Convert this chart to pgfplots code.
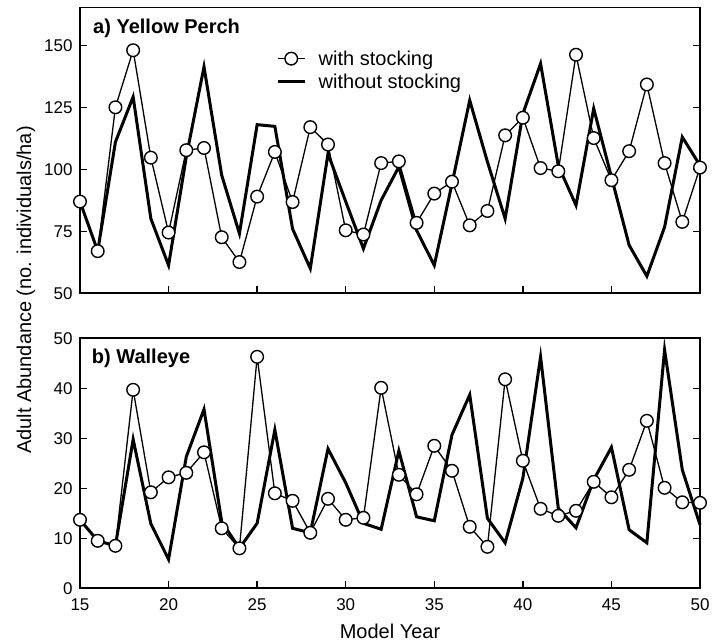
\documentclass[border=0pt]{standalone}
\usepackage{fontspec}
\setmainfont{Liberation Sans}
\usepackage{pgfplots}
\pgfplotsset{compat=1.18}
\begin{document}
\begin{tikzpicture}
\path[use as bounding box] (0,0) rectangle (717pt,643pt);
\pgfplotsset{
  common/.style={
    scale only axis, width=620pt, xmin=15, xmax=50, clip=false,
    axis line style={line width=1.8pt},
    tick align=inside, xtick pos=left, ytick pos=both,
    major tick length=7pt,
    every tick/.style={line width=1.4pt, black},
    tick label style={font=\fontsize{17}{17}\selectfont},
    /pgf/number format/assume math mode=true,
    yticklabel style={xshift=-4pt},
    xticklabel style={yshift=-7pt},
  },
  withst/.style={black, line width=1.3pt, mark=*, mark size=6.3pt, mark options={fill=white, draw=black, line width=1.4pt}},
  without/.style={black, line width=3pt, no marks},
}
\begin{axis}[common, at={(80pt,349.7pt)}, anchor=south west, height=285.7pt,
  ymin=50, ymax=165.2, ytick={50,75,100,125,150},
  xtick={15,20,...,50}, xticklabels={},
  legend style={draw=none, fill=none, inner sep=0pt, at={(0.317,0.857)}, anchor=north west,
    font=\fontsize{20}{20}\selectfont, row sep=3pt,
    /tikz/every odd column/.append style={column sep=10pt}},
  legend cell align=left,
  legend image code/.code={\draw[mark repeat=2,mark phase=2,#1] plot coordinates {(0pt,0pt) (13pt,0pt) (27pt,0pt)};},
]
\addlegendimage{withst}\addlegendentry{with stocking}
\addlegendimage{without}\addlegendentry{without stocking}
\addplot[without, forget plot] coordinates {
(15,87) (16,67) (17,111) (18,129.2) (19,80.1) (20,61.3) (21,105) (22,141.3) (23,97.6) (24,74.1)
(25,118) (26,117.3) (27,76) (28,60) (29,106.3) (30,87) (31,68) (32,87.5) (33,101) (34,75.4)
(35,61.3) (36,94.2) (37,127.8) (38,103) (39,80.1) (40,122.4) (41,142.6) (42,101.5) (43,85.5) (44,124.5)
(45,96.9) (46,69.4) (47,56.9) (48,76.7) (49,113) (50,101.6)};
\addplot[withst, forget plot] coordinates {
(15,87) (16,67) (17,125) (18,148) (19,104.7) (20,74.5) (21,107.7) (22,108.6) (23,72.6) (24,62.6)
(25,89) (26,107) (27,86.8) (28,117) (29,110) (30,75.4) (31,73.7) (32,102.5) (33,103.2) (34,78.4)
(35,90.2) (36,95) (37,77.4) (38,83.2) (39,113.7) (40,120.8) (41,100.5) (42,99.2) (43,146.2) (44,112.6)
(45,95.6) (46,107.3) (47,134.2) (48,102.5) (49,78.8) (50,100.7)};
\node[anchor=base west, inner sep=0pt, font=\bfseries\fontsize{20}{20}\selectfont] at (rel axis cs:0.021,0.911) {a) Yellow Perch};
\end{axis}
\begin{axis}[common, at={(80pt,54.7pt)}, anchor=south west, height=250pt,
  ymin=0, ymax=50, ytick={0,10,...,50},
  xtick={15,20,...,50},
  xlabel={Model Year}, ylabel={Adult Abundance (no. individuals/ha)},
  label style={font=\fontsize{20}{20}\selectfont},
  xlabel style={at={(axis description cs:0.5,0)}, anchor=base, yshift=-50pt},
  ylabel style={at={(axis description cs:-0.079,1.193)}, anchor=base, rotate=0},
]
\addplot[without] coordinates {
(15,13.7) (16,9.5) (17,8.5) (18,29.8) (19,12.9) (20,5.8) (21,26.3) (22,35.8) (23,13.3) (24,8)
(25,13) (26,31.7) (27,12) (28,11.1) (29,27.9) (30,21.1) (31,13) (32,11.8) (33,27.5) (34,14.3)
(35,13.5) (36,30.7) (37,38.7) (38,14) (39,9.1) (40,22) (41,46.3) (42,16) (43,12.1) (44,21.7)
(45,28.2) (46,11.7) (47,9.1) (48,47.7) (49,23.7) (50,12.7)};
\addplot[withst] coordinates {
(15,13.7) (16,9.5) (17,8.5) (18,39.7) (19,19.2) (20,22.2) (21,23.1) (22,27.2) (23,12) (24,8)
(25,46.3) (26,19) (27,17.5) (28,11.1) (29,17.9) (30,13.7) (31,14.1) (32,40.1) (33,22.7) (34,18.8)
(35,28.5) (36,23.5) (37,12.3) (38,8.3) (39,41.8) (40,25.5) (41,15.9) (42,14.5) (43,15.5) (44,21.3)
(45,18.2) (46,23.7) (47,33.5) (48,20.1) (49,17.2) (50,17.1)};
\node[anchor=base west, inner sep=0pt, font=\bfseries\fontsize{20}{20}\selectfont] at (rel axis cs:0.019,0.9) {b) Walleye};
\end{axis}
\end{tikzpicture}
\end{document}
